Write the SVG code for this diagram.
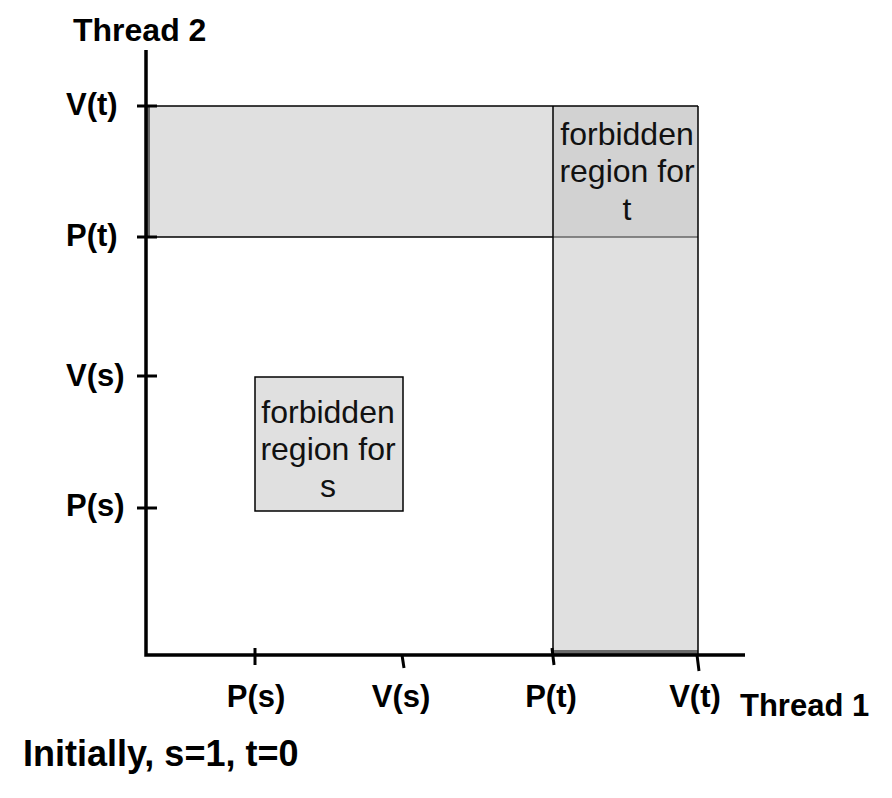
<svg xmlns="http://www.w3.org/2000/svg" width="892" height="798" viewBox="0 0 892 798">
<style>
.lbl{font-family:"Liberation Sans",Arial,sans-serif;font-weight:bold;font-size:31px;fill:#000}
.big{font-family:"Liberation Sans",Arial,sans-serif;font-weight:bold;font-size:36px;fill:#000}
.reg{font-family:"Liberation Sans",Arial,sans-serif;font-size:32px;fill:#111;text-anchor:middle}
.ax{stroke:#000;stroke-width:3.5;fill:none}
.tick{stroke:#000;stroke-width:3;fill:none}
.edge{stroke:#000;stroke-width:1.5;fill:none}
</style>
<rect x="0" y="0" width="892" height="798" fill="#fff"/>
<g id="forbidden-t">
  <rect x="146" y="106" width="552" height="131" fill="#e0e0e0"/>
  <rect x="553" y="237" width="145" height="418" fill="#e0e0e0"/>
  <rect x="553" y="106" width="145" height="131" fill="#d2d2d2"/>
  <rect x="146" y="106" width="4" height="131" fill="#6a6a6a"/>
  <rect x="553" y="650" width="145" height="5" fill="#6a6a6a"/>
  <line class="edge" x1="146" y1="106" x2="698" y2="106"/>
  <line class="edge" x1="146" y1="237" x2="553" y2="237"/>
  <line x1="553" y1="237" x2="698" y2="237" stroke="#666" stroke-width="1.5"/>
  <line class="edge" x1="553" y1="106" x2="553" y2="655"/>
  <line class="edge" x1="698" y1="106" x2="698" y2="655"/>
  <text class="reg" x="627" y="145">forbidden</text>
  <text class="reg" x="627" y="182">region for</text>
  <text class="reg" x="627" y="220">t</text>
</g>
<g id="forbidden-s">
  <rect x="255" y="377" width="148" height="134" fill="#e0e0e0" stroke="#000" stroke-width="1.5"/>
  <text class="reg" x="328" y="423">forbidden</text>
  <text class="reg" x="328" y="460">region for</text>
  <text class="reg" x="328" y="497">s</text>
</g>
<g id="connectors">
  <polyline class="ax" points="146,50 146,655 745,655"/>
  <line class="tick" x1="137" y1="106" x2="157" y2="106"/>
  <line class="tick" x1="137" y1="237" x2="157" y2="237"/>
  <line class="tick" x1="137" y1="376" x2="157" y2="376"/>
  <line class="tick" x1="137" y1="508" x2="157" y2="508"/>
  <line class="tick" x1="255" y1="648" x2="255" y2="665"/>
  <line class="tick" x1="402" y1="655" x2="404" y2="668"/>
  <line class="tick" x1="552" y1="648" x2="554" y2="665"/>
  <line class="tick" x1="697" y1="655" x2="699" y2="671"/>
</g>
<g id="labels">
  <text class="lbl" x="73" y="41" style="font-size:32px">Thread 2</text>
  <text class="lbl" x="66" y="115">V(t)</text>
  <text class="lbl" x="66" y="246">P(t)</text>
  <text class="lbl" x="66" y="386">V(s)</text>
  <text class="lbl" x="66" y="516">P(s)</text>
  <text class="lbl" x="256" y="707" text-anchor="middle">P(s)</text>
  <text class="lbl" x="401" y="707" text-anchor="middle">V(s)</text>
  <text class="lbl" x="551" y="707" text-anchor="middle">P(t)</text>
  <text class="lbl" x="695" y="707" text-anchor="middle">V(t)</text>
  <text class="lbl" x="740" y="716" style="font-size:31px">Thread 1</text>
  <text class="big" x="23" y="766">Initially, s=1, t=0</text>
</g>
</svg>
